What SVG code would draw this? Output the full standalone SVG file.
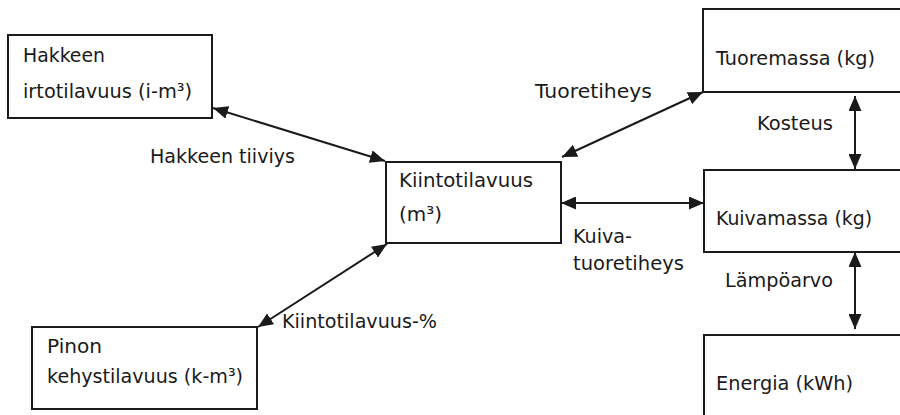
<svg xmlns="http://www.w3.org/2000/svg" width="900" height="415" viewBox="0 0 900 415">
<defs>
<style>
.box{fill:#fff;stroke:#1a1a1a;stroke-width:2}
.t{font-family:"DejaVu Sans","Verdana",sans-serif;font-size:19.5px;fill:#1a1a1a}
.c{stroke:#1a1a1a;stroke-width:2;fill:none;marker-start:url(#ah);marker-end:url(#ah)}
</style>
<marker id="ah" markerUnits="userSpaceOnUse" markerWidth="16" markerHeight="13" refX="15" refY="6.5" orient="auto-start-reverse">
<path d="M0,0 L15,6.5 L0,13 Z" fill="#1a1a1a"/>
</marker>
</defs>
<rect width="900" height="415" fill="#fff"/>
<g id="connectors">
<line class="c" x1="213" y1="108" x2="385" y2="161"/>
<line class="c" x1="562" y1="157" x2="703" y2="92"/>
<line class="c" x1="561" y1="203" x2="704" y2="203"/>
<line class="c" x1="855" y1="96" x2="855" y2="169"/>
<line class="c" x1="855" y1="252" x2="855" y2="329"/>
<line class="c" x1="258" y1="327" x2="387" y2="244"/>
<text class="t" x="150" y="163" textLength="145" lengthAdjust="spacingAndGlyphs">Hakkeen tiiviys</text>
<text class="t" x="535" y="98" textLength="117" lengthAdjust="spacingAndGlyphs">Tuoretiheys</text>
<text class="t" x="757" y="130" textLength="76" lengthAdjust="spacingAndGlyphs">Kosteus</text>
<text class="t" x="573" y="243" textLength="59" lengthAdjust="spacingAndGlyphs">Kuiva-</text>
<text class="t" x="573" y="270" textLength="111" lengthAdjust="spacingAndGlyphs">tuoretiheys</text>
<text class="t" x="725" y="287" textLength="108" lengthAdjust="spacingAndGlyphs">Lämpöarvo</text>
<text class="t" x="282" y="328" textLength="155" lengthAdjust="spacingAndGlyphs">Kiintotilavuus-%</text>
</g>
<g id="hakkeen">
<rect class="box" x="8" y="35" width="204" height="83"/>
<text class="t" x="23" y="62" textLength="82" lengthAdjust="spacingAndGlyphs">Hakkeen</text>
<text class="t" x="23" y="98" textLength="169" lengthAdjust="spacingAndGlyphs">irtotilavuus (i-m³)</text>
</g>
<g id="kiintotilavuus">
<rect class="box" x="386" y="162" width="175" height="81"/>
<text class="t" x="399" y="187" textLength="134" lengthAdjust="spacingAndGlyphs">Kiintotilavuus</text>
<text class="t" x="399" y="221" textLength="43" lengthAdjust="spacingAndGlyphs">(m³)</text>
</g>
<g id="tuoremassa">
<rect class="box" x="703" y="9" width="210" height="83"/>
<text class="t" x="716" y="65" textLength="159" lengthAdjust="spacingAndGlyphs">Tuoremassa (kg)</text>
</g>
<g id="kuivamassa">
<rect class="box" x="704" y="170" width="210" height="82"/>
<text class="t" x="716" y="225" textLength="156" lengthAdjust="spacingAndGlyphs">Kuivamassa (kg)</text>
</g>
<g id="energia">
<rect class="box" x="704" y="335" width="210" height="100"/>
<text class="t" x="716" y="390" textLength="137" lengthAdjust="spacingAndGlyphs">Energia (kWh)</text>
</g>
<g id="pinon">
<rect class="box" x="32" y="327" width="225" height="82"/>
<text class="t" x="47" y="353" textLength="55" lengthAdjust="spacingAndGlyphs">Pinon</text>
<text class="t" x="47" y="383" textLength="196" lengthAdjust="spacingAndGlyphs">kehystilavuus (k-m³)</text>
</g>
</svg>
